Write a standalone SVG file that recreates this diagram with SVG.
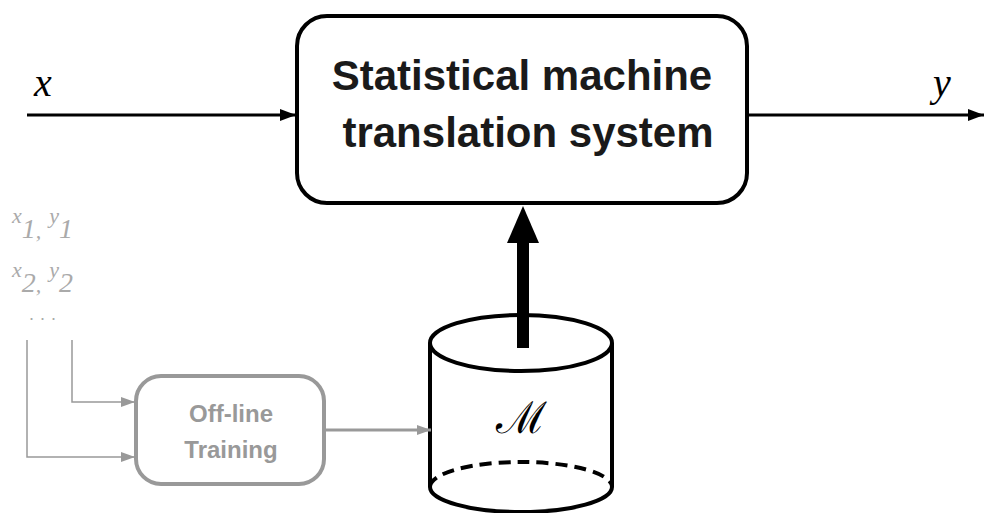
<svg xmlns="http://www.w3.org/2000/svg" width="984" height="513" viewBox="0 0 984 513">
<defs>
<style>
.blk{fill:none;stroke:#000;stroke-width:4}
.gry{fill:none;stroke:#999;stroke-width:1.5}
.lbl{font-family:"Liberation Serif",serif;font-style:italic;fill:#000}
.glbl{font-family:"Liberation Serif",serif;font-style:italic;fill:#aaa}
.main{font-family:"Liberation Sans",Arial,sans-serif;font-weight:bold;font-size:42px;fill:#1a1a1a;text-anchor:middle}
.train{font-family:"Liberation Sans",Arial,sans-serif;font-weight:bold;font-size:24px;fill:#999;text-anchor:middle}
</style>
<marker id="ab" markerWidth="16" markerHeight="12" refX="16" refY="6" orient="auto" markerUnits="userSpaceOnUse"><path d="M0,0 L16,6 L0,12 Z" fill="#000"/></marker>
<marker id="ag" markerWidth="14" markerHeight="10" refX="14" refY="5" orient="auto" markerUnits="userSpaceOnUse"><path d="M0,0 L14,5 L0,10 Z" fill="#999"/></marker>
</defs>
<g id="label-x"><text class="lbl" x="34" y="96" font-size="40">x</text></g>
<g id="label-y"><text class="lbl" x="933" y="96" font-size="40">y</text></g>
<g id="smt">
<rect class="blk" x="297" y="16" width="450" height="187" rx="30" ry="30" fill="#fff"/>
<text class="main" x="522" y="90">Statistical machine</text>
<text class="main" x="528" y="147">translation system</text>
</g>
<g id="model">
<path d="M430,343 L430,487 M612,343 L612,487" class="blk"/>
<ellipse cx="521" cy="343" rx="91" ry="28" class="blk" fill="#fff"/>
<path d="M430,487 A91,25 0 0 0 612,487" class="blk"/>
<path d="M430,487 A91,25 0 0 1 612,487" class="blk" stroke-dasharray="12,7"/>
<text x="521" y="433" font-family="DejaVu Serif,serif" font-size="44" text-anchor="middle">ℳ</text>
</g>
<g id="training">
<rect x="136" y="376" width="188" height="108" rx="25" ry="25" fill="#fff" stroke="#999" stroke-width="4"/>
<text class="train" x="231" y="422">Off-line</text>
<text class="train" x="231" y="458">Training</text>
</g>
<g id="data">
<text class="glbl" x="12" y="223" font-size="22">x<tspan font-size="28" dy="15">1</tspan><tspan font-size="22">,</tspan><tspan dy="-15" dx="8">y</tspan><tspan font-size="28" dy="15">1</tspan></text>
<text class="glbl" x="12" y="277" font-size="22">x<tspan font-size="28" dy="15">2</tspan><tspan font-size="22">,</tspan><tspan dy="-15" dx="8">y</tspan><tspan font-size="28" dy="15">2</tspan></text>
<text x="29" y="320" font-family="Liberation Sans,sans-serif" font-size="18" fill="#aaa" letter-spacing="6">...</text>
</g>
<g id="connectors">
<line x1="27" y1="115" x2="296" y2="115" stroke="#000" stroke-width="3" marker-end="url(#ab)"/>
<line x1="748" y1="115" x2="984" y2="115" stroke="#000" stroke-width="3" marker-end="url(#ab)"/>
<rect x="517" y="240" width="12" height="108" fill="#000"/>
<path d="M507,243 L523,206 L539,243 Z" fill="#000"/>
<polyline class="gry" points="27,340 27,457 135,457" marker-end="url(#ag)"/>
<polyline class="gry" points="72,340 72,402 135,402" marker-end="url(#ag)"/>
<line x1="325" y1="430" x2="431" y2="430" stroke="#999" stroke-width="3" marker-end="url(#ag)"/>
</g>
</svg>
